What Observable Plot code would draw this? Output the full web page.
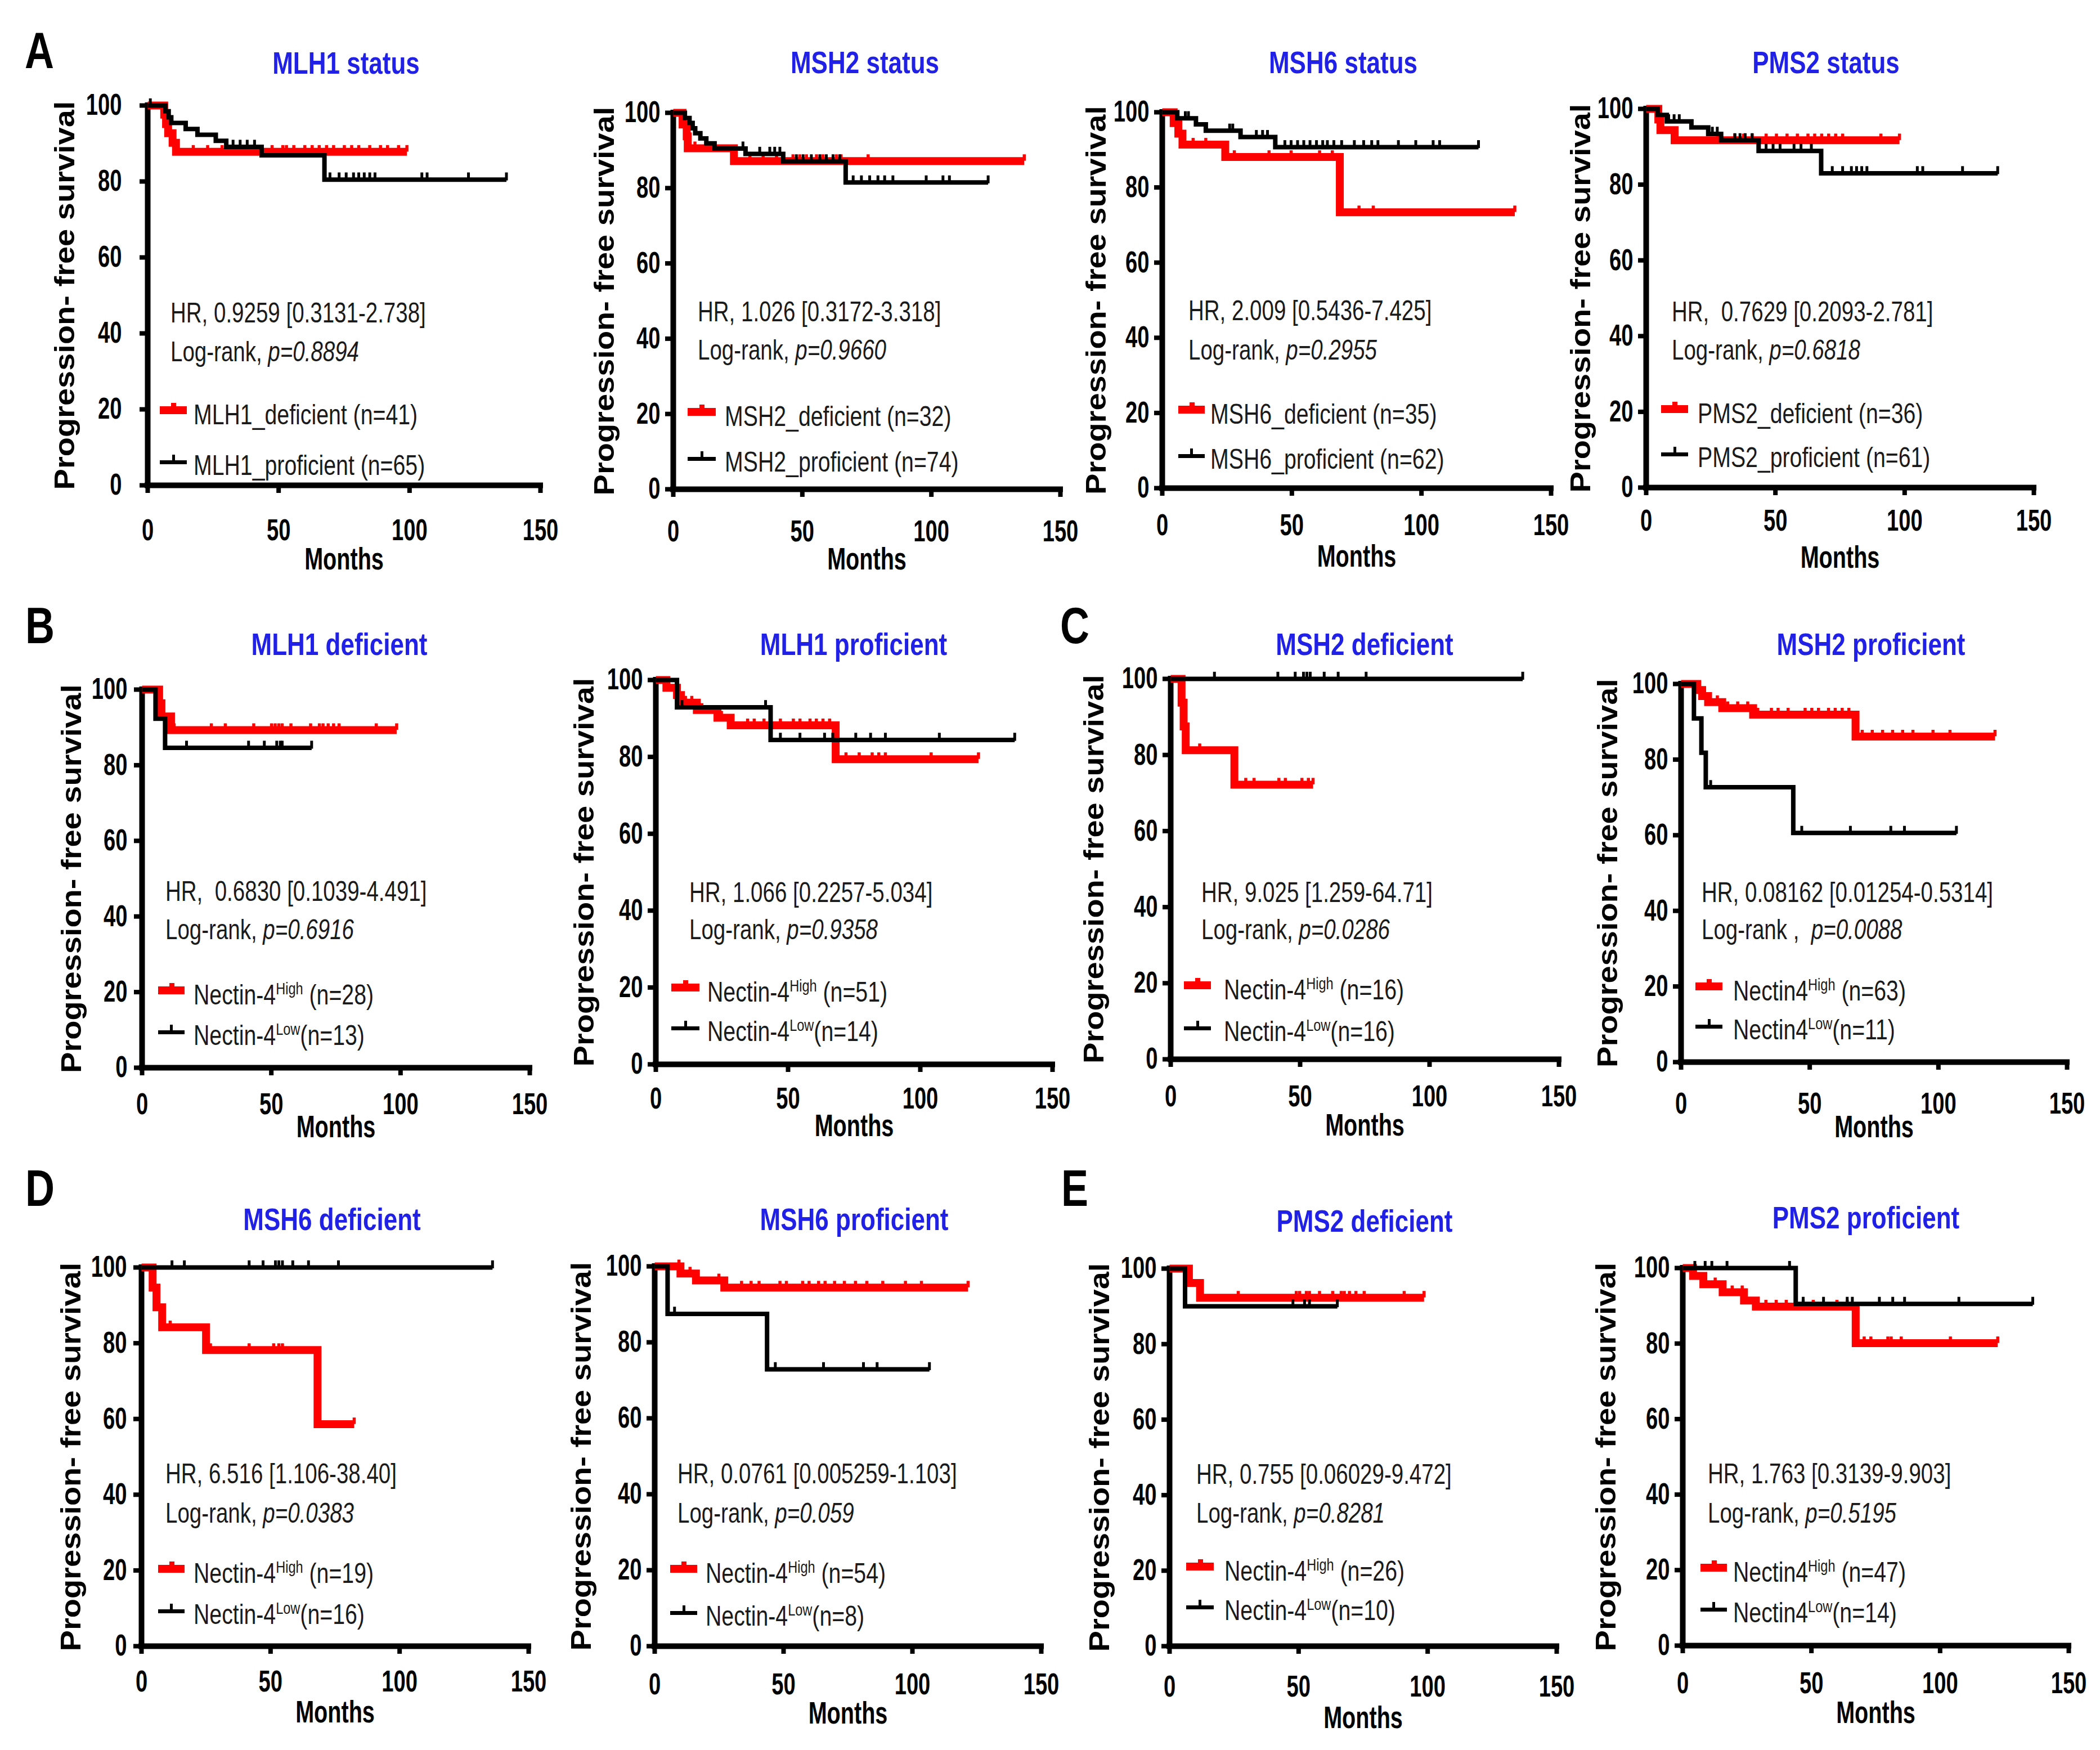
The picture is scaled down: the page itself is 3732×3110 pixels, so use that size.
<!DOCTYPE html>
<html><head><meta charset="utf-8">
<script src="https://cdn.jsdelivr.net/npm/d3@7"></script>
<script src="https://cdn.jsdelivr.net/npm/@observablehq/plot@0.6"></script>
<style>
html,body{margin:0;padding:0;background:#fff;}
#fig{position:relative;width:3732px;height:3110px;background:#fff;overflow:hidden;font-family:"Liberation Sans",Arial,Helvetica,sans-serif;}
.abs{position:absolute;white-space:pre;line-height:1;}
.pw{position:absolute;}
.sw{position:absolute;}
sup{font-size:0.6em;vertical-align:baseline;position:relative;top:-0.6em;line-height:0;}
</style></head><body><div id="fig"></div>
<script>
// ---------- chart values ----------
const monthTicks = [0, 50, 100, 150];
const pfsTicks = [0, 20, 40, 60, 80, 100];

const panelTitles = ["MLH1 status", "MSH2 status", "MSH6 status", "PMS2 status",
  "MLH1 deficient", "MLH1 proficient", "MSH2 deficient", "MSH2 proficient",
  "MSH6 deficient", "MSH6 proficient", "PMS2 deficient", "PMS2 proficient"];
const panelLetters = ["A", "B", "C", "D", "E"];

const hrTexts = ["HR, 0.9259 [0.3131-2.738]", "HR, 1.026 [0.3172-3.318]", "HR, 2.009 [0.5436-7.425]", "HR,  0.7629 [0.2093-2.781]",
  "HR,  0.6830 [0.1039-4.491]", "HR, 1.066 [0.2257-5.034]", "HR, 9.025 [1.259-64.71]", "HR, 0.08162 [0.01254-0.5314]",
  "HR, 6.516 [1.106-38.40]", "HR, 0.0761 [0.005259-1.103]", "HR, 0.755 [0.06029-9.472]", "HR, 1.763 [0.3139-9.903]"];
const logrankPrefix = ["Log-rank, ", "Log-rank, ", "Log-rank, ", "Log-rank, ", "Log-rank, ", "Log-rank, ", "Log-rank, ",
  "Log-rank ,  ", "Log-rank, ", "Log-rank, ", "Log-rank, ", "Log-rank, "];
const pValues = ["p=0.8894", "p=0.9660", "p=0.2955", "p=0.6818", "p=0.6916", "p=0.9358", "p=0.0286", "p=0.0088",
  "p=0.0383", "p=0.059", "p=0.8281", "p=0.5195"];

const redNames = ["MLH1_deficient", "MSH2_deficient", "MSH6_deficient", "PMS2_deficient",
  "Nectin-4|High", "Nectin-4|High", "Nectin-4|High", "Nectin4|High", "Nectin-4|High", "Nectin-4|High", "Nectin-4|High", "Nectin4|High"];
const blackNames = ["MLH1_proficient", "MSH2_proficient", "MSH6_proficient", "PMS2_proficient",
  "Nectin-4|Low", "Nectin-4|Low", "Nectin-4|Low", "Nectin4|Low", "Nectin-4|Low", "Nectin-4|Low", "Nectin-4|Low", "Nectin4|Low"];
const redN = [41, 32, 35, 36, 28, 51, 16, 63, 19, 54, 26, 47];
const blackN = [65, 74, 62, 61, 13, 14, 16, 11, 16, 8, 10, 14];

// Kaplan-Meier curves: [month, survival %] vertices (last = end of follow-up); censor months
const a1Red = [[0,100],[6.3,97.6],[7.0,95.1],[7.8,92.7],[9.5,90.2],[10.8,87.8],[99,87.8]];
const a1RedCens = [17.4,22.9,28.4,32.4,39.4,43.4,47.5,51.6,53,55.8,60,62.8,65.5,68.3,71,75.1,77.9,80.6,84.8,88.9,91.6,95.8,99];
const a1Blk = [[0,100],[6.8,98.5],[8,96.9],[9,95.4],[14.5,93.8],[19,92.3],[26,90.7],[30,89.1],[43.5,86.9],[67.5,80.5],[137,80.5]];
const a1BlkCens = [1,32.6,35.3,38,40.8,69.6,73.1,75.8,78.6,80.6,82.7,84.8,86.8,104.7,106.7,122.5,137];

const a2Red = [[0,100],[3.6,96.9],[5.2,93.75],[5.6,90.6],[23.5,87.2],[136,87.2]];
const a2RedCens = [8.4,29.7,34.8,40,46.4,49,51.6,55.5,58,63.2,65,75.5,136];
const a2Blk = [[0,100],[4.5,98.6],[6.3,97.3],[7.5,95.9],[8.5,94.6],[10.5,93.2],[12.8,91.9],[16,90.5],[28,89.1],[42.6,87.1],[66.8,81.5],[122,81.5]];
const a2BlkCens = [27,33.5,37.4,39.3,41.3,47.7,50.3,53.5,56.8,59.3,61.9,64.5,69.7,72.9,76.1,79.3,81.9,85.1,98,104.5,107,122];

const a3Red = [[0,100],[4.4,97.1],[6.2,94.3],[7.8,91.4],[24.3,88.1],[68.5,73.4],[136,73.4]];
const a3RedCens = [11.9,16.8,27.8,41.2,49.7,60.7,65.6,75.9,81.4,136];
const a3Blk = [[0,100],[5.8,98.4],[13,96.8],[16.8,95.1],[30.2,93.4],[43.6,90.7],[122,90.7]];
const a3BlkCens = [8.9,10.1,26,27.2,36.3,38.7,40.6,47.3,49.7,52.2,54.6,57,59.5,61.9,63.7,66.2,69.2,74.1,77.7,80.8,83.2,91.1,97.8,104.5,107,122];

const a4Red = [[0,100],[4.7,97.2],[5.5,94.4],[11,91.7],[98,91.7]];
const a4RedCens = [27.6,34.3,37.7,41,46.4,50.4,54.5,58.5,62.6,65.2,67.9,70.6,73.3,76,90.8,98];
const a4Blk = [[0,100],[4.5,98.4],[8,96.7],[17.5,95.1],[24,93.4],[29,91.7],[43.5,88.9],[67.7,83],[136,83]];
const a4BlkCens = [8.7,10.8,12.8,25.6,27.5,34.3,36.3,38.3,41,46.4,49.1,51.8,57.2,59.9,63.9,72,76,79.4,81.4,83.4,85.4,104.9,107,122.4,136];

const b1Red = [[0,100],[6.6,96.4],[7.5,92.9],[11.2,89.3],[98.5,89.3]];
const b1RedCens = [12.4,26.8,32.2,43.2,50.1,51.5,52.9,54.2,57.6,65.2,68.6,70,72,74.1,76.2,90.6,98.5];
const b1Blk = [[0,100],[5.2,92.3],[8.9,84.6],[65.6,84.6]];
const b1BlkCens = [17.2,41.2,47.3,52.1,53.5,54.2,65.6];

const b2Red = [[0,100],[4,98],[8,96.1],[9.5,94.1],[15.5,92.2],[23.3,90.2],[28.3,88.2],[68,79.4],[122,79.4]];
const b2RedCens = [11.2,13.6,17.4,24.8,34.7,37.2,40.9,47.1,52,54.5,58.3,60.7,63.2,65.7,71.9,76.9,81.8,84.3,86.8,104.1,122];
const b2Blk = [[0,100],[8,92.9],[43.4,84.4],[135.7,84.4]];
const b2BlkCens = [9.9,41.5,47.1,54.5,63.8,66.9,75.6,81.2,86.8,107.2,135.7];

const c1Red = [[0,100],[4.2,93.75],[5,87.5],[5.8,81.25],[24.6,72.2],[55,72.2]];
const c1RedCens = [11.2,29,32.2,41.8,44.3,50.7,53.2,55];
const c1Blk = [[0,100],[136,100]];
const c1BlkCens = [16.9,41.4,48.1,51.3,52.6,53.9,59.3,64.7,75.5,136];

const c2Red = [[0,100],[6.3,98.4],[8.2,96.8],[10.5,95.2],[16,93.6],[28,91.9],[67.8,86.1],[122,86.1]];
const c2RedCens = [8.9,14.1,18.1,22,25.9,29.8,35.1,37.7,41.6,48.2,50.8,53.4,57.3,59.9,62.6,65.2,70.4,74.3,78.3,82.2,86.1,90.1,97.9,104.5,122];
const c2Blk = [[0,100],[5,90.9],[7.9,81.8],[9.6,72.7],[43.6,60.6],[107,60.6]];
const c2BlkCens = [11.5,46.9,65.8,81.5,86.8,107];

const d1Red = [[0,100],[4.3,94.7],[5.8,89.5],[8,84.2],[25,78.2],[68.2,58.6],[82.4,58.6]];
const d1RedCens = [11.1,26.7,41.7,51.2,53.2,54.6,82.4];
const d1Blk = [[0,100],[136,100]];
const d1BlkCens = [11.8,16.6,41.7,47.1,51.9,53.2,54.6,58.6,64.7,76.3,136];

const d2Red = [[0,100],[10,98.1],[16,96.3],[27,94.4],[121.6,94.4]];
const d2RedCens = [9.4,13.7,24.9,33.7,37.4,40.5,48.6,51.1,57.4,59.9,63.6,66.1,69.8,73.6,77.9,82.3,88.5,97.3,103.5,121.6];
const d2Blk = [[0,100],[5,87.5],[43.6,72.9],[106.6,72.9]];
const d2BlkCens = [7.7,46.8,65.5,81,86.3,106.6];

const e1Red = [[0,100],[7.5,96.2],[11.8,92.3],[98.6,92.3]];
const e1RedCens = [26.6,49.1,50.4,53,54.2,58.1,63.2,66.5,67.7,69.7,72.2,75.4,90.9,98.6];
const e1Blk = [[0,100],[6,90],[65,90]];
const e1BlkCens = [47.8,52.3,54.2,65];

const e2Red = [[0,100],[4,97.9],[8,95.7],[15.5,93.6],[23.8,91.4],[28.4,89.8],[67.2,80.1],[122.4,80.1]];
const e2RedCens = [12.6,19.2,23.1,32.3,36.3,40.2,46.8,50.7,59.9,63.9,70.5,73.1,79.7,81,84.9,104,122.4];
const e2Blk = [[0,100],[43.9,90.5],[136,90.5]];
const e2BlkCens = [4.7,8.7,11.3,17.2,41.5,46.8,54.7,63.9,65.9,76.4,81.6,86.2,107.3,136];

const redCurves = [a1Red, a2Red, a3Red, a4Red, b1Red, b2Red, c1Red, c2Red, d1Red, d2Red, e1Red, e2Red];
const redCensors = [a1RedCens, a2RedCens, a3RedCens, a4RedCens, b1RedCens, b2RedCens, c1RedCens, c2RedCens, d1RedCens, d2RedCens, e1RedCens, e2RedCens];
const blackCurves = [a1Blk, a2Blk, a3Blk, a4Blk, b1Blk, b2Blk, c1Blk, c2Blk, d1Blk, d2Blk, e1Blk, e2Blk];
const blackCensors = [a1BlkCens, a2BlkCens, a3BlkCens, a4BlkCens, b1BlkCens, b2BlkCens, c1BlkCens, c2BlkCens, d1BlkCens, d2BlkCens, e1BlkCens, e2BlkCens];

// ---------- layout (page pixels) ----------
const layout = [
 {x0:262, x1:960, y1:187, y0:862, tc:78, tpy:32, ylab:147, mdy:132, title:[615,112], hr:[303,556,625], leg:[284,332,729,821,344]},
 {x0:1196, x1:1884, y1:200, y0:869, tc:73, tpy:9, ylab:122, mdy:125, title:[1537,111], hr:[1240,554,622], leg:[1222,1272,732,815,1288]},
 {x0:2065, x1:2756, y1:199, y0:867, tc:64, tpy:9, ylab:117, mdy:122, title:[2387,111], hr:[2112,552,622], leg:[2094,2141,728,810,2151]},
 {x0:2925, x1:3614, y1:193, y0:866, tc:57, tpy:9, ylab:116, mdy:125, title:[3245,111], hr:[2971,554,622], leg:[2952,3000,727,807,3017]},
 {x0:252, x1:941, y1:1225, y0:1897, tc:63, tpy:12, ylab:125, mdy:106, title:[603,1145], hr:[294,1584,1652], leg:[281,328,1760,1834,344]},
 {x0:1165, x1:1870, y1:1208, y0:1891, tc:59, tpy:9, ylab:127, mdy:110, title:[1517,1145], hr:[1225,1586,1652], leg:[1193,1243,1755,1827,1257]},
 {x0:2080, x1:2770, y1:1206, y0:1882, tc:64, tpy:9, ylab:136, mdy:118, title:[2425,1145], hr:[2135,1586,1652], leg:[2104,2152,1751,1827,2175]},
 {x0:2987, x1:3673, y1:1215, y0:1887, tc:72, tpy:9, ylab:130, mdy:116, title:[3325,1145], hr:[3024,1586,1652], leg:[3013,3061,1753,1824,3080]},
 {x0:251, x1:939, y1:2252, y0:2925, tc:61, tpy:12, ylab:125, mdy:118, title:[590,2167], hr:[294,2619,2689], leg:[281,328,2788,2863,344]},
 {x0:1163, x1:1850, y1:2250, y0:2925, tc:66, tpy:9, ylab:130, mdy:120, title:[1518,2167], hr:[1204,2619,2689], leg:[1191,1239,2788,2866,1254]},
 {x0:2078, x1:2766, y1:2254, y0:2925, tc:70, tpy:9, ylab:124, mdy:128, title:[2425,2170], hr:[2126,2620,2689], leg:[2108,2157,2784,2856,2176]},
 {x0:2990, x1:3676, y1:2253, y0:2924, tc:65, tpy:9, ylab:136, mdy:120, title:[3316,2164], hr:[3035,2619,2689], leg:[3022,3069,2786,2860,3080]}
];
const letterPos = [[70,90],[71,1112],[1910,1112],[71,2112],[1910,2112]];

const FONT = '"Liberation Sans", Arial, Helvetica, sans-serif';
const RED = "#ff0000";
const BLUE = "#2020e6";
const fig = document.getElementById("fig");
const ML = 240, MR = 70, MT = 40, MB = 180;

function survAt(pts, t) {
  let s = pts[0][1];
  for (const p of pts) { if (p[0] <= t + 1e-9) s = p[1]; else break; }
  return s;
}
function squeeze(el, s) {
  const x = parseFloat(el.getAttribute("x")) || 0, y = parseFloat(el.getAttribute("y")) || 0;
  const tr = el.getAttribute("transform") || "";
  el.setAttribute("transform", `${tr} translate(${x},${y}) scale(${s},1) translate(${-x},${-y})`);
}
function addText(html, x, y, o) {
  const d = document.createElement("div");
  d.className = "abs";
  d.innerHTML = html;
  d.style.left = x + "px"; d.style.top = y + "px";
  d.style.fontSize = o.size + "px";
  d.style.fontWeight = o.weight || "normal";
  d.style.color = o.color || "#111";
  const sx = o.sx || 1;
  if (o.anchor === "start") { d.style.transformOrigin = "0 50%"; d.style.transform = `translateY(-50%) scaleX(${sx})`; }
  else { d.style.transformOrigin = "50% 50%"; d.style.transform = `translate(-50%,-50%) scaleX(${sx})`; }
  fig.appendChild(d);
}
function addBox(x, y, w, h, color) {
  const d = document.createElement("div");
  d.className = "sw";
  d.style.left = x + "px"; d.style.top = y + "px"; d.style.width = w + "px"; d.style.height = h + "px";
  d.style.background = color;
  fig.appendChild(d);
}
function legendLabel(name, n) {
  const [base, sup] = name.split("|");
  if (!sup) return `${base} (n=${n})`;
  return sup === "High" ? `${base}<sup>${sup}</sup> (n=${n})` : `${base}<sup>${sup}</sup>(n=${n})`;
}

layout.forEach((g, i) => {
  const w = g.x1 - g.x0 + ML + MR, h = g.y0 - g.y1 + MT + MB;
  const red = redCurves[i].map(([t, s]) => ({t, s}));
  const blk = blackCurves[i].map(([t, s]) => ({t, s}));
  const redC = redCensors[i].map(t => ({t, s: survAt(redCurves[i], t)}));
  const blkC = blackCensors[i].map(t => ({t, s: survAt(blackCurves[i], t)}));
  const svg = Plot.plot({
    width: w, height: h,
    marginLeft: ML, marginRight: MR, marginTop: MT, marginBottom: MB,
    x: {domain: [0, 150], label: null},
    y: {domain: [0, 100], label: null},
    style: {fontFamily: FONT, fontWeight: "bold", fontSize: "52px", color: "#000", background: "transparent", overflow: "visible", maxWidth: "none"},
    marks: [
      Plot.axisX(monthTicks, {anchor: "bottom", tickSize: 14, tickPadding: g.tc - 32.6, fontSize: 53, fontWeight: "bold", strokeWidth: 8, stroke: "#000", label: null}),
      Plot.axisY(pfsTicks, {anchor: "left", tickSize: 14, tickPadding: g.tpy, fontSize: 53, fontWeight: "bold", strokeWidth: 8, stroke: "#000", label: null}),
      Plot.ruleY([0], {stroke: "#000", strokeWidth: 10, strokeLinecap: "square"}),
      Plot.ruleX([0], {stroke: "#000", strokeWidth: 10, strokeLinecap: "square"}),
      Plot.line(red, {x: "t", y: "s", curve: "step-after", stroke: RED, strokeWidth: 14, strokeLinejoin: "miter", strokeLinecap: "butt", strokeMiterlimit: 4}),
      Plot.ruleX(redC, {x: "t", y1: "s", y2: d => d.s + 1.7, stroke: RED, strokeWidth: 5.5}),
      Plot.line(blk, {x: "t", y: "s", curve: "step-after", stroke: "#000", strokeWidth: 8, strokeLinejoin: "miter", strokeLinecap: "butt", strokeMiterlimit: 4}),
      Plot.ruleX(blkC, {x: "t", y1: d => d.s - 0.3, y2: d => d.s + 1.8, stroke: "#000", strokeWidth: 5}),
      Plot.text(["Months"], {text: d => d, frameAnchor: "bottom", dy: g.mdy, lineAnchor: "middle", textAnchor: "middle", fontSize: 55, fontWeight: "bold", fill: "#000"}),
      Plot.text(["Progression- free survival"], {text: d => d, frameAnchor: "left", dx: -g.ylab, rotate: -90, lineAnchor: "middle", textAnchor: "middle", fontSize: 56, fontWeight: "bold", fill: "#000"})
    ]
  });
  svg.querySelectorAll("text").forEach(t => {
    if (t.textContent.startsWith("Progression")) {
      const tr = t.getAttribute("transform") || "";
      if (tr.includes("rotate(")) t.setAttribute("transform", tr.replace("rotate(", "scale(0.9,1) rotate("));
    } else {
      squeeze(t, 0.72);
    }
  });
  const wrap = document.createElement("div");
  wrap.className = "pw";
  wrap.style.left = (g.x0 - ML) + "px";
  wrap.style.top = (g.y1 - MT) + "px";
  wrap.style.width = w + "px";
  wrap.style.height = h + "px";
  wrap.appendChild(svg);
  fig.appendChild(wrap);

  // title
  addText(panelTitles[i], g.title[0], g.title[1], {size: 55, weight: "bold", color: BLUE, sx: 0.8});
  // HR & log-rank
  addText(hrTexts[i], g.hr[0], g.hr[1], {size: 50, anchor: "start", sx: 0.77, color: "#1a1a1a"});
  addText(`${logrankPrefix[i]}<i>${pValues[i]}</i>`, g.hr[0], g.hr[2], {size: 50, anchor: "start", sx: 0.77, color: "#1a1a1a"});
  // legend
  const [lx1, lx2, ly1, ly2, tx] = g.leg;
  addBox(lx1, ly1 - 7, lx2 - lx1, 14, RED);
  addBox(lx1 + (lx2 - lx1) * 0.42, ly1 - 13, 9, 7, RED);
  addBox(lx1, ly2 - 3.5, lx2 - lx1, 7, "#000");
  addBox(lx1 + (lx2 - lx1) * 0.5 - 2.5, ly2 - 13, 5, 13, "#000");
  addText(legendLabel(redNames[i], redN[i]), tx, ly1 + 8, {size: 50, anchor: "start", sx: 0.785, color: "#1a1a1a"});
  addText(legendLabel(blackNames[i], blackN[i]), tx, ly2 + 6, {size: 50, anchor: "start", sx: 0.785, color: "#1a1a1a"});
});

panelLetters.forEach((L, k) => {
  addText(L, letterPos[k][0], letterPos[k][1], {size: 90, weight: "bold", color: "#000", sx: 0.8});
});
</script></body></html>
